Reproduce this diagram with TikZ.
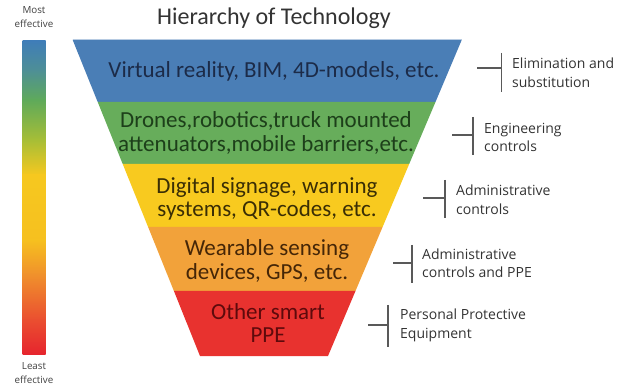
\documentclass[tikz,border=0pt]{standalone}
\usepackage{fontspec}
\setmainfont{Carlito}
\newfontfamily\sidefont{Open Sans}
\begin{document}
\begin{tikzpicture}[x=1pt,y=-1pt,
  bandtext/.style={align=center,font=\fontsize{23}{23.5}\selectfont,inner sep=0pt},
  sidelabel/.style={anchor=west,align=left,font=\sidefont\fontsize{14}{18.5}\selectfont,text=black!80,inner sep=0pt},
  barlabel/.style={align=center,font=\sidefont\fontsize{9.8}{13.5}\selectfont,text=black!75,inner sep=0pt},
  brk/.style={draw=black!65,line width=1.1pt}]
\useasboundingbox (0,0) rectangle (619,390);
\definecolor{cblue}{HTML}{4A7EB6}
\definecolor{cgreen}{HTML}{67AD5B}
\definecolor{cyellow}{HTML}{F8CA1F}
\definecolor{corange}{HTML}{F2A23A}
\definecolor{cred}{HTML}{E8322F}
\definecolor{tblue}{HTML}{1C2B48}
\definecolor{tgreen}{HTML}{1D3F1A}
\definecolor{tyellow}{HTML}{3A2E05}
\definecolor{torange}{HTML}{452607}
\definecolor{tred}{HTML}{5E0A0C}
% funnel bands
\fill[cblue]   (72.7,40) -- (461.7,40) -- (435.5,102) -- (97.7,102) -- cycle;
\fill[cgreen]  (97.7,102) -- (435.5,102) -- (409.2,164) -- (122.7,164) -- cycle;
\fill[cyellow] (122.7,164) -- (409.2,164) -- (382.6,227) -- (148.1,227) -- cycle;
\fill[corange] (148.1,227) -- (382.6,227) -- (355.5,291) -- (173.9,291) -- cycle;
\fill[cred]    (173.9,291) -- (355.5,291) -- (328,356) -- (200,356) -- cycle;
\draw[color=cblue!40,line width=0.8pt] (72.7,39.6) -- (461.7,39.6);
% title
\node[font=\fontsize{24}{26}\selectfont,text=black!80,inner sep=0pt] (title) at (274,18) {Hierarchy of Technology};
% band texts
\node[bandtext,text=tblue] (t1) at (274,71) {Virtual reality, BIM, 4D-models, etc.};
\node[bandtext,text=tgreen] (t2) at (266,133) {Drones,robotics,truck mounted\\attenuators,mobile barriers,etc.};
\node[bandtext,text=tyellow] (t3) at (267,199) {Digital signage, warning\\systems, QR-codes, etc.};
\node[bandtext,text=torange] (t4) at (267,261) {Wearable sensing\\devices, GPS, etc.};
\node[bandtext,text=tred] (t5) at (268,323) {Other smart\\PPE};
% colour bar
\shade[top color={rgb,255:red,63;green,125;blue,184},bottom color={rgb,255:red,78;green,143;blue,150}] (22.7,40.7) rectangle (45.7,70.5);
\shade[top color={rgb,255:red,78;green,143;blue,150},bottom color={rgb,255:red,95;green,170;blue,90}] (22.7,70) rectangle (45.7,100.5);
\shade[top color={rgb,255:red,95;green,170;blue,90},bottom color={rgb,255:red,167;green,190;blue,54}] (22.7,100) rectangle (45.7,140.5);
\shade[top color={rgb,255:red,167;green,190;blue,54},bottom color={rgb,255:red,246;green,200;blue,31}] (22.7,140) rectangle (45.7,175.5);
\shade[top color={rgb,255:red,246;green,200;blue,31},bottom color={rgb,255:red,246;green,192;blue,31}] (22.7,175) rectangle (45.7,240.5);
\shade[top color={rgb,255:red,246;green,192;blue,31},bottom color={rgb,255:red,240;green,144;blue,44}] (22.7,240) rectangle (45.7,275.5);
\shade[top color={rgb,255:red,240;green,144;blue,44},bottom color={rgb,255:red,234;green,78;blue,48}] (22.7,275) rectangle (45.7,320.5);
\shade[top color={rgb,255:red,234;green,78;blue,48},bottom color={rgb,255:red,230;green,37;blue,46}] (22.7,320) rectangle (45.7,354);
\node[barlabel] (most) at (34,17) {Most\\effective};
\node[barlabel] (least) at (34,373) {Least\\effective};
% brackets
\coordinate (b1h) at (477,68);   \coordinate (b1v) at (501.5,68);
\draw[brk] (b1h) -- (b1v); \draw[brk] (501.5,53) -- (501.5,92);
\node[sidelabel] (s1) at (512,73) {Elimination and\\substitution};
\coordinate (b2h) at (452,135);  \coordinate (b2v) at (473,135);
\draw[brk] (b2h) -- (b2v); \draw[brk] (473,117) -- (473,155);
\node[sidelabel] (s2) at (484,137.5) {Engineering\\controls};
\coordinate (b3h) at (423,198);  \coordinate (b3v) at (445,198);
\draw[brk] (b3h) -- (b3v); \draw[brk] (445,180) -- (445,218);
\node[sidelabel] (s3) at (456,200) {Administrative\\controls};
\coordinate (b4h) at (393,263);  \coordinate (b4v) at (412,263);
\draw[brk] (b4h) -- (b4v); \draw[brk] (412,245) -- (412,283);
\node[sidelabel] (s4) at (422,263.5) {Administrative\\controls and PPE};
\coordinate (b5h) at (368,325);  \coordinate (b5v) at (388,325);
\draw[brk] (b5h) -- (b5v); \draw[brk] (388,305) -- (388,347);
\node[sidelabel] (s5) at (400,325.5) {Personal Protective\\Equipment};
\end{tikzpicture}
\end{document}
